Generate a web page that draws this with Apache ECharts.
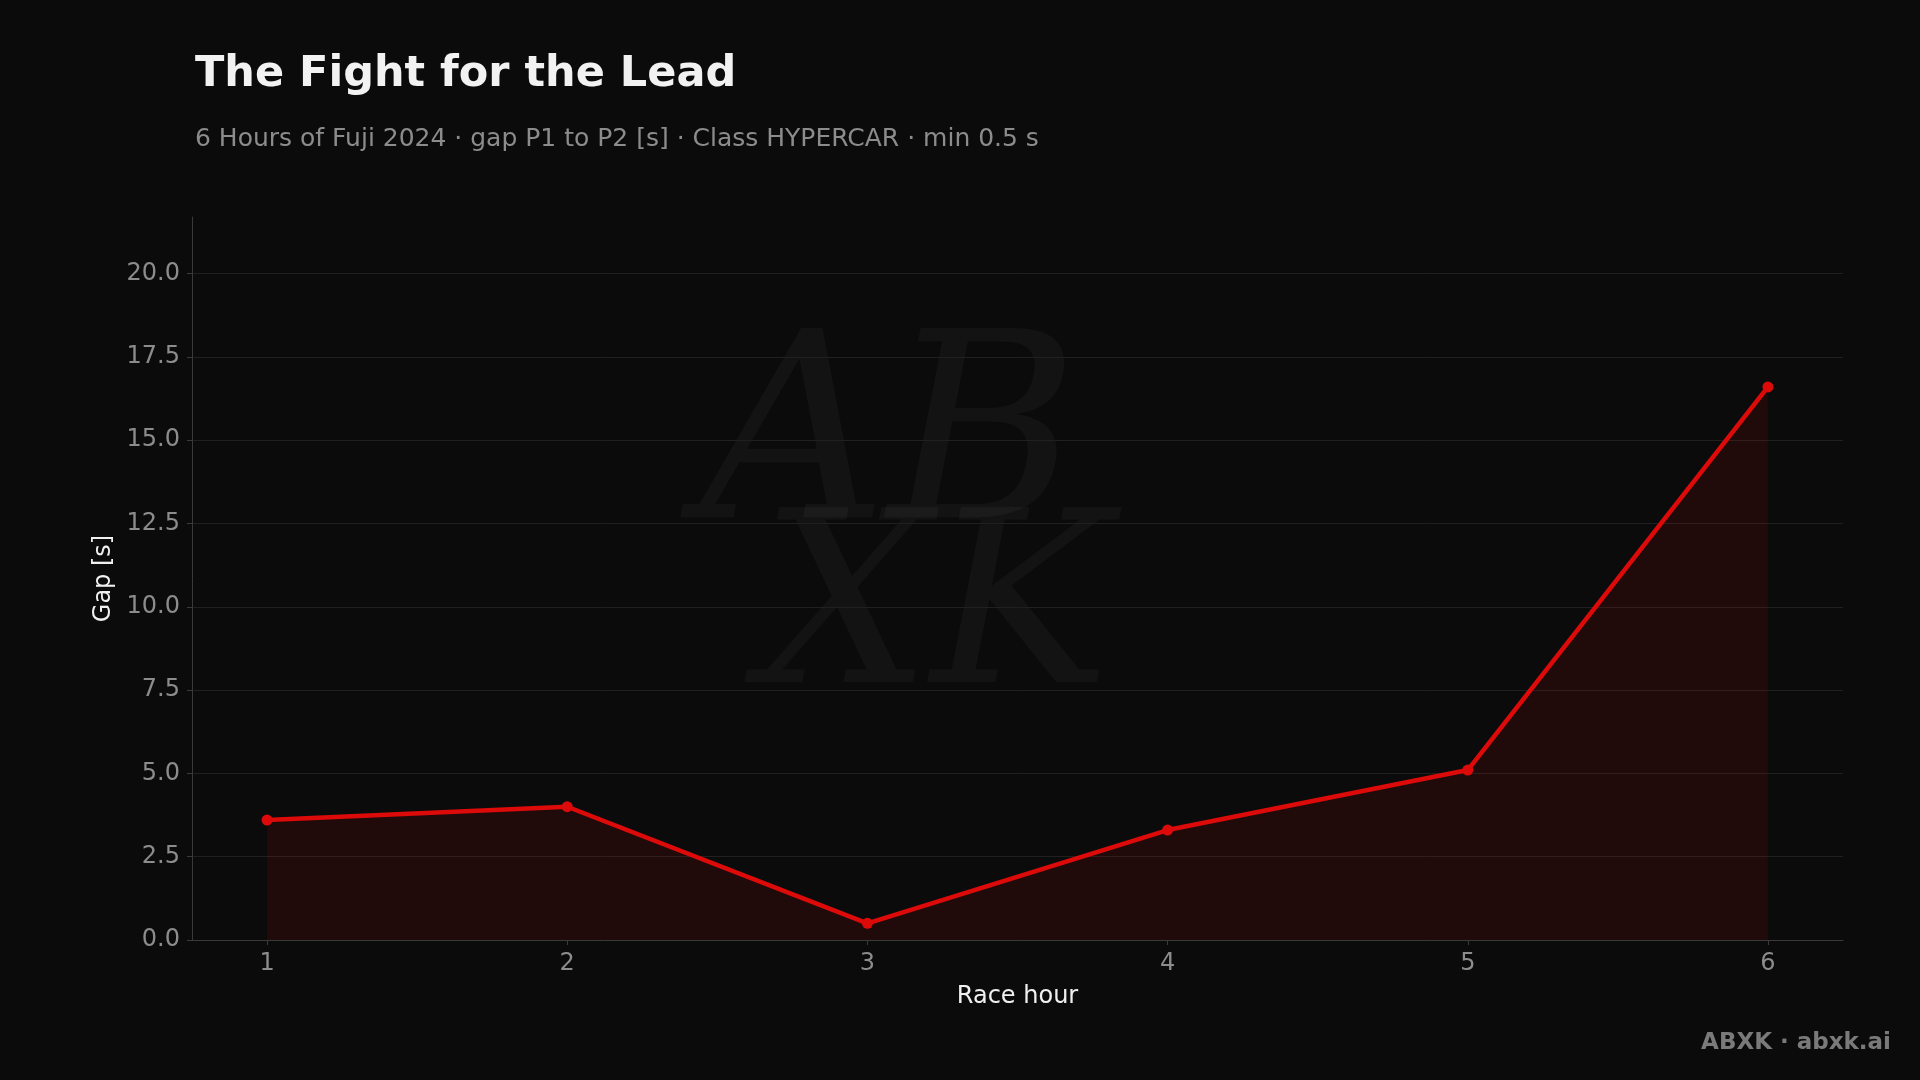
<!DOCTYPE html>
<html><head><meta charset="utf-8">
<script src="https://cdn.jsdelivr.net/npm/echarts@6/dist/echarts.min.js"></script>
<style>html,body{margin:0;padding:0;background:#0b0b0b}#c{width:1920px;height:1080px}</style>
</head><body><div id="c"></div>
<script>
const hours = [1, 2, 3, 4, 5, 6]
const gaps = [3.6, 4.0, 0.5, 3.3, 5.1, 16.6]
const yTicks = [0, 2.5, 5, 7.5, 10, 12.5, 15, 17.5, 20]

const chart = echarts.init(document.getElementById('c'))
const font = 'DejaVu Sans'
chart.setOption({
  backgroundColor: '#0b0b0b',
  textStyle: { fontFamily: font },
  title: {
    text: 'The Fight for the Lead',
    subtext: '6 Hours of Fuji 2024 · gap P1 to P2 [s] · Class HYPERCAR · min 0.5 s',
    left: 190, top: 48,
    textStyle: { color: '#f2f2f2', fontSize: 43, fontWeight: 'bold', fontFamily: font },
    subtextStyle: { color: '#8c8c8c', fontSize: 25, fontFamily: font },
    itemGap: 31
  },
  graphic: [
    { type: 'text', right: 29, top: 1032, style: { text: 'ABXK · abxk.ai', fill: '#7a7a7a', font: 'bold 23px DejaVu Sans' } },
    { type: 'text', left: 700, top: 320, style: { text: 'AB', fill: 'rgba(255,255,255,0.035)', font: 'italic 260px DejaVu Serif' } },
    { type: 'text', left: 760, top: 500, style: { text: 'XK', fill: 'rgba(255,255,255,0.035)', font: 'italic 240px DejaVu Serif' } }
  ],
  grid: { left: 192, right: 77, top: 217, bottom: 140 },
  xAxis: {
    type: 'value', min: 0.75, max: 6.25,
    name: 'Race hour', nameLocation: 'middle', nameGap: 45,
    nameTextStyle: { color: '#f0f0f0', fontSize: 24 },
    axisLine: { show: true, lineStyle: { color: '#3a3a3a' } },
    axisTick: { show: true, customValues: hours, lineStyle: { color: '#3a3a3a' } },
    axisLabel: { color: '#8c8c8c', fontSize: 24, margin: 12,
      customValues: hours, formatter: v => String(v) },
    splitLine: { show: false }
  },
  yAxis: {
    type: 'value', min: 0, max: 21.7,
    name: 'Gap [s]', nameLocation: 'middle', nameGap: 76,
    nameTextStyle: { color: '#f0f0f0', fontSize: 24 },
    axisLine: { show: true, lineStyle: { color: '#3a3a3a' } },
    axisTick: { show: true, customValues: yTicks, lineStyle: { color: '#3a3a3a' } },
    axisLabel: { color: '#8c8c8c', fontSize: 24, margin: 12, customValues: yTicks, formatter: v => v.toFixed(1) },
    splitLine: { show: true, lineStyle: { color: '#202020' } }
  },
  series: [{
    type: 'line',
    data: hours.map((h, i) => [h, gaps[i]]),
    symbol: 'circle', symbolSize: 11,
    lineStyle: { color: '#dd0a0a', width: 4.5 },
    itemStyle: { color: '#dd0a0a' },
    areaStyle: { color: 'rgba(221,10,10,0.15)' }
  }]
})
</script></body></html>
